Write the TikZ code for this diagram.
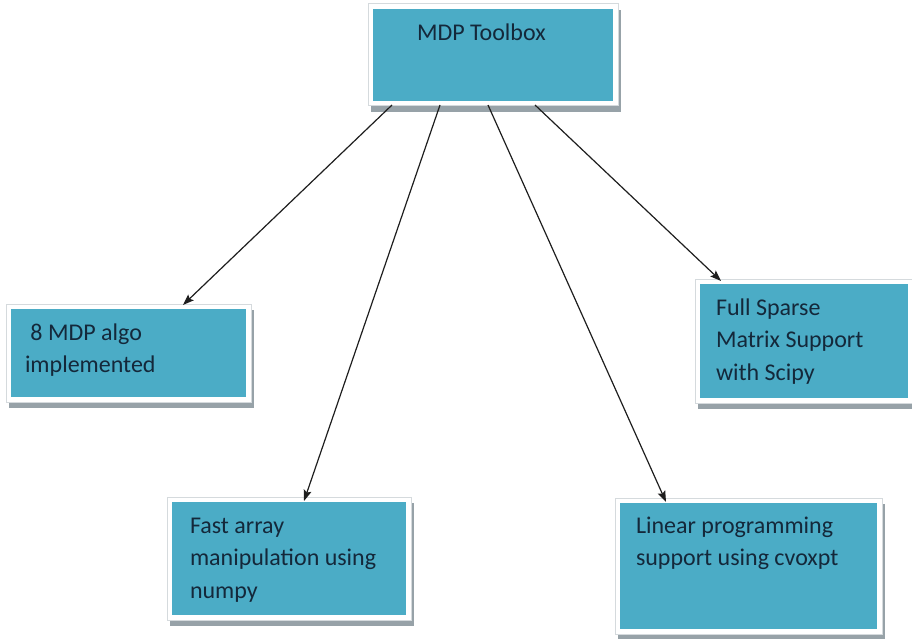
\documentclass[tikz,border=0pt]{standalone}
\usepackage{fontspec}
\setmainfont{Carlito}
\usetikzlibrary{arrows.meta,calc}
\definecolor{boxteal}{HTML}{4BACC6}
\definecolor{shadowgray}{HTML}{97A2A8}
\definecolor{framegray}{HTML}{D5DADD}
\definecolor{txt}{HTML}{14283A}
\definecolor{arrcol}{HTML}{1E1E1E}
\begin{document}
\begin{tikzpicture}[x=1pt,y=-1pt,
  tbox/.style={rectangle, inner sep=0pt, outer sep=0pt, anchor=north west, fill=boxteal,
    preaction={draw=shadowgray, fill=shadowgray, line width=10pt, transform canvas={shift={(2.5pt,-6pt)}}},
    preaction={draw=framegray, line width=11pt},
    preaction={draw=white, line width=9pt}},
  lbl/.style={anchor=base west, inner sep=0pt, outer sep=0pt, text=txt,
    font=\fontsize{24}{32.5}\selectfont},
  arr/.style={draw=arrcol, line width=1.2pt, -{Stealth[length=11pt,width=8pt,inset=2pt]}}]
\useasboundingbox (0,0) rectangle (912,639);
% boxes
\node[tbox, minimum width=240pt, minimum height=92pt] (top) at (373,9) {};
\node[tbox, minimum width=235pt, minimum height=88pt] (b1) at (11,309) {};
\node[tbox, minimum width=234pt, minimum height=113pt] (b2) at (172,502) {};
\node[tbox, minimum width=257pt, minimum height=126pt] (b3) at (620,503) {};
\node[tbox, minimum width=208pt, minimum height=114pt] (b4) at (700,284) {};
% texts
\node[lbl] (t0) at (417,41) {MDP Toolbox};
\node[lbl] (t1) at (25,340) {\vtop{\hbox{\ 8 MDP algo}\hbox{implemented}}};
\node[lbl] (t2) at (190,533) {\vtop{\hbox{Fast array}\hbox{manipulation using}\hbox{numpy}}};
\node[lbl] (t3) at (636,533) {\vtop{\hbox{Linear programming}\hbox{support using cvoxpt}}};
\node[lbl] (t4) at (716,315) {\vtop{\hbox{Full Sparse}\hbox{Matrix Support}\hbox{with Scipy}}};
% arrows
\draw[arr] ([xshift=19pt,yshift=-4pt]top.south west) -- ([xshift=172pt,yshift=4pt]b1.north west);
\draw[arr] ([xshift=67pt,yshift=-4pt]top.south west) -- ([xshift=132pt,yshift=1pt]b2.north west);
\draw[arr] ([xshift=115pt,yshift=-4pt]top.south west) -- ([xshift=46pt,yshift=1pt]b3.north west);
\draw[arr] ([xshift=162pt,yshift=-4pt]top.south west) -- ([xshift=21pt,yshift=3pt]b4.north west);
\end{tikzpicture}
\end{document}
